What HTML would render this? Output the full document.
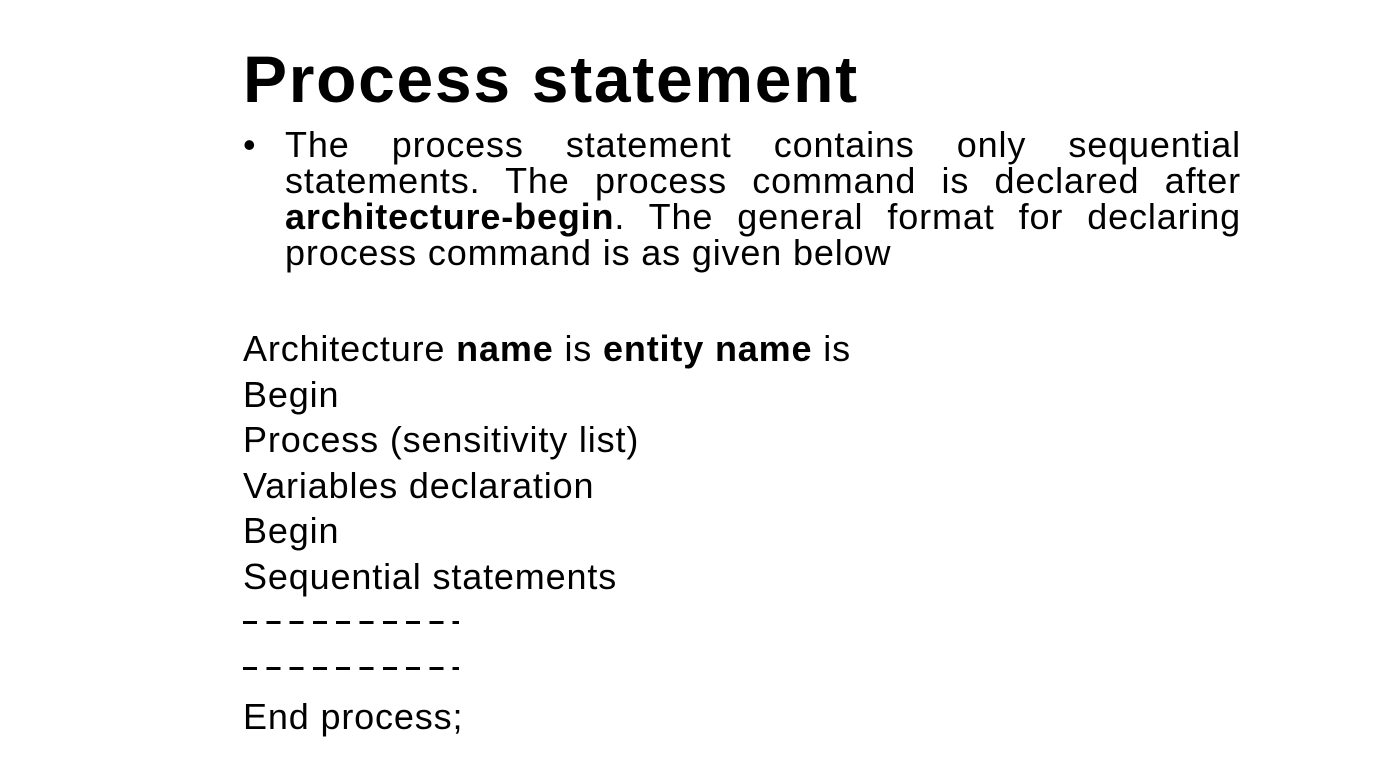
<!DOCTYPE html>
<html><head><style>
body{margin:0;width:1375px;height:780px;background:#fff;position:relative;font-family:"Liberation Sans",sans-serif;color:#000;overflow:hidden}
.t{position:absolute;left:243px;top:39px;font-size:66px;letter-spacing:1.7px;font-weight:bold;line-height:80px;white-space:nowrap}
.p{position:absolute;left:285px;top:127px;width:956px;font-size:36px;letter-spacing:0.85px;line-height:36px;text-align:justify}
.b{position:absolute;left:243px;top:127px;font-size:36px;line-height:36px}
.l{position:absolute;left:243px;font-size:36px;letter-spacing:0.85px;line-height:44px;white-space:nowrap}
.d{position:absolute;left:243px;width:216px;height:3px;background:repeating-linear-gradient(90deg,#000 0 14px,transparent 14px 23.3px)}
</style></head><body>
<div class="t">Process statement</div>
<div class="b">•</div>
<div class="p">The process statement contains only sequential statements. The process command is declared after <b>architecture-begin</b>. The general format for declaring process command is as given below</div>
<div class="l" style="top:327px">Architecture <b>name</b> is <b>entity name</b> is</div>
<div class="l" style="top:373px">Begin</div>
<div class="l" style="top:418px">Process (sensitivity list)</div>
<div class="l" style="top:464px">Variables declaration</div>
<div class="l" style="top:509px">Begin</div>
<div class="l" style="top:555px">Sequential statements</div>
<div class="d" style="top:621px"></div>
<div class="d" style="top:667px"></div>
<div class="l" style="top:695px">End process;</div>
</body></html>
